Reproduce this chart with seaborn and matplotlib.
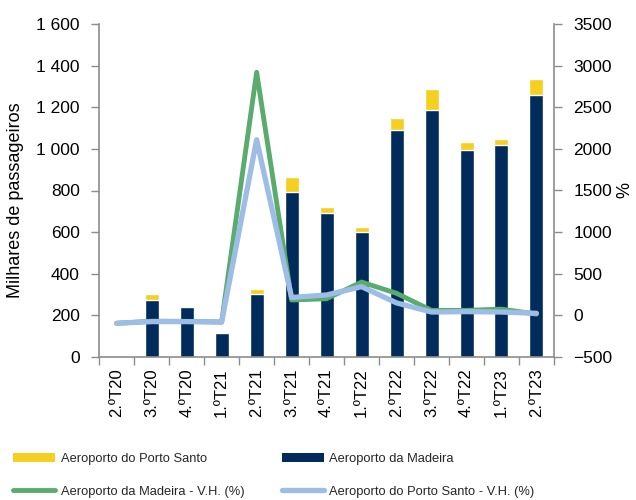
import numpy as np
import pandas as pd
import matplotlib
matplotlib.use("Agg")
import matplotlib.pyplot as plt
import seaborn as sns
from matplotlib.patches import Patch
from matplotlib.lines import Line2D
from matplotlib.ticker import FuncFormatter, FixedLocator

# Data (milhares de passageiros / variação homóloga %)
quarters = ["2.ºT20", "3.ºT20", "4.ºT20", "1.ºT21", "2.ºT21", "3.ºT21", "4.ºT21",
            "1.ºT22", "2.ºT22", "3.ºT22", "4.ºT22", "1.ºT23", "2.ºT23"]
madeira = [6, 274, 240, 113, 301, 791, 691, 602, 1091, 1187, 995, 1017, 1261]
porto_santo = [3, 29, 6, 7, 26, 72, 28, 24, 58, 101, 37, 32, 73]
vh_madeira = [-95, -70, -72, -80, 2920, 185, 200, 400, 265, 60, 60, 75, 15]
vh_porto_santo = [-95, -75, -75, -80, 2110, 215, 245, 345, 150, 40, 45, 40, 25]

c_ps = "#F5D020"
c_mad = "#002B5B"
c_green = "#5AAB6E"
c_blue = "#9DBDE6"
c_spine = "#8C8C8C"

df = pd.DataFrame({"q": quarters, "madeira": madeira, "ps": porto_santo,
                   "vh_mad": vh_madeira, "vh_ps": vh_porto_santo})
df["total"] = df["madeira"] + df["ps"]
df["pos"] = np.arange(len(df))

sns.set_theme(style="white")
plt.rcParams["font.family"] = ["Liberation Sans", "DejaVu Sans"]

fig = plt.figure(figsize=(6.36, 5.0), dpi=100)
ax = fig.add_axes([0.156, 0.286, 0.715, 0.666])

# stacked bars: total (yellow) behind, Madeira (navy) in front
sns.barplot(data=df, x="q", y="total", color=c_ps, width=0.4, saturation=1, ax=ax)
sns.barplot(data=df, x="q", y="madeira", color=c_mad, width=0.4, saturation=1, ax=ax)

ax.set_ylim(0, 1600)
ax.set_xlim(-0.5, len(df) - 0.5)
ax.yaxis.set_major_locator(FixedLocator(np.arange(0, 1601, 200)))
ax.yaxis.set_major_formatter(FuncFormatter(lambda v, p: f"{int(v):,}".replace(",", " ")))
ax.set_ylabel("Milhares de passageiros", fontsize=13, color="#000000", labelpad=9, y=0.47)
ax.set_xlabel("")
ax.tick_params(axis="y", labelsize=12.5, colors="#000000", length=6, width=1,
               pad=8, direction="out", left=True, color=c_spine)
ax.set_xticks(df["pos"])
ax.set_xticklabels(quarters, rotation=90, fontsize=12)
ax.tick_params(axis="x", which="major", length=0, pad=8, labelcolor="#000000")
ax.set_xticks(np.arange(-0.5, len(df), 1), minor=True)
ax.tick_params(axis="x", which="minor", length=6, width=1, bottom=True,
               direction="out", color=c_spine)

ax2 = ax.twinx()
sns.lineplot(x=df["pos"], y=df["vh_mad"], color=c_green, linewidth=3.5, ax=ax2,
             solid_capstyle="round", solid_joinstyle="round")
sns.lineplot(x=df["pos"], y=df["vh_ps"], color=c_blue, linewidth=3.8, ax=ax2,
             solid_capstyle="round", solid_joinstyle="round")
ax2.set_ylim(-500, 3500)
ax2.yaxis.set_major_locator(FixedLocator(np.arange(-500, 3501, 500)))
ax2.set_ylabel("%", fontsize=13, color="#000000", labelpad=3)
ax2.tick_params(axis="y", labelsize=12.5, colors="#000000", length=6, width=1,
                pad=8, direction="out", right=True, color=c_spine)
ax2.set_xlim(-0.5, len(df) - 0.5)

for a in (ax, ax2):
    a.spines["top"].set_visible(False)
    for s in ("left", "right", "bottom"):
        a.spines[s].set_color(c_spine)
        a.spines[s].set_linewidth(1.2)
ax.spines["right"].set_visible(False)
ax2.spines["left"].set_visible(False)
ax2.spines["bottom"].set_visible(False)

handles = [
    Patch(facecolor=c_ps, edgecolor="none", label="Aeroporto do Porto Santo"),
    Line2D([0], [0], color=c_green, linewidth=3.5, label="Aeroporto da Madeira - V.H. (%)"),
    Patch(facecolor=c_mad, edgecolor="none", label="Aeroporto da Madeira"),
    Line2D([0], [0], color=c_blue, linewidth=3.8, label="Aeroporto do Porto Santo - V.H. (%)"),
]
fig.legend(handles=handles, loc="upper left", bbox_to_anchor=(0.012, 0.104), ncol=2,
           frameon=False, fontsize=9.3, handlelength=3.3, handleheight=0.64,
           handletextpad=0.4, columnspacing=2.9, labelspacing=1.58, borderaxespad=0)

fig.savefig("out.png", dpi=100)
